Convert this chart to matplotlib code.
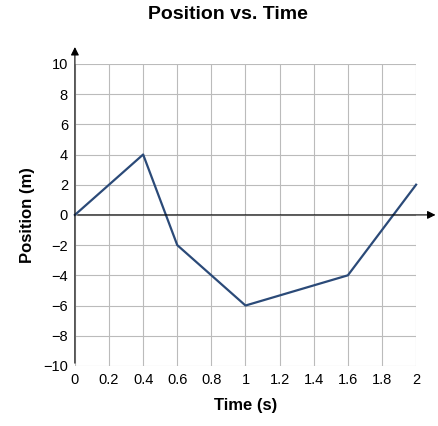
import matplotlib.pyplot as plt

time_s = [0, 0.4, 0.6, 1.0, 1.6, 2.0]
position_m = [0, 4, -2, -6, -4, 2]
x_ticks = [0, 0.2, 0.4, 0.6, 0.8, 1, 1.2, 1.4, 1.6, 1.8, 2]
x_labels = ["0", "0.2", "0.4", "0.6", "0.8", "1", "1.2", "1.4", "1.6", "1.8", "2"]
y_ticks = list(range(-10, 11, 2))

plt.rcParams['font.family'] = ['Liberation Sans', 'DejaVu Sans']
fig = plt.figure(figsize=(4.38, 4.26), dpi=100)
ax = fig.add_axes([0.171, 0.141, 0.779, 0.709])
ax.set_xlim(0, 2)
ax.set_ylim(-10, 10)
ax.set_xticks(x_ticks)
ax.set_xticklabels(x_labels)
ax.set_yticks(y_ticks)
ax.set_yticklabels([str(v).replace('-', '\u2212') for v in y_ticks])
ax.grid(True, color='#bbbbbb', lw=0.8)
for s in ax.spines.values():
    s.set_visible(False)
ax.tick_params(length=0, labelsize=10.5, pad=5)

ax.plot(time_s, position_m, color='#2b4a78', lw=1.6, clip_on=False, zorder=3)

# axes with arrows
ax.annotate('', xy=(2.13, 0), xytext=(0, 0), annotation_clip=False,
            arrowprops=dict(arrowstyle='-|>', color='black', lw=0.8, mutation_scale=12))
ax.annotate('', xy=(0, 11.3), xytext=(0, -10), annotation_clip=False,
            arrowprops=dict(arrowstyle='-|>', color='black', lw=0.8, mutation_scale=12))

ax.set_xlabel('Time (s)', fontsize=12, fontweight='bold', labelpad=8)
ax.set_ylabel('Position (m)', fontsize=12, fontweight='bold', labelpad=6)
fig.text(0.52, 0.965, 'Position vs. Time', ha='center', va='center',
         fontsize=14, fontweight='bold')

fig.savefig('out.png', dpi=100)
